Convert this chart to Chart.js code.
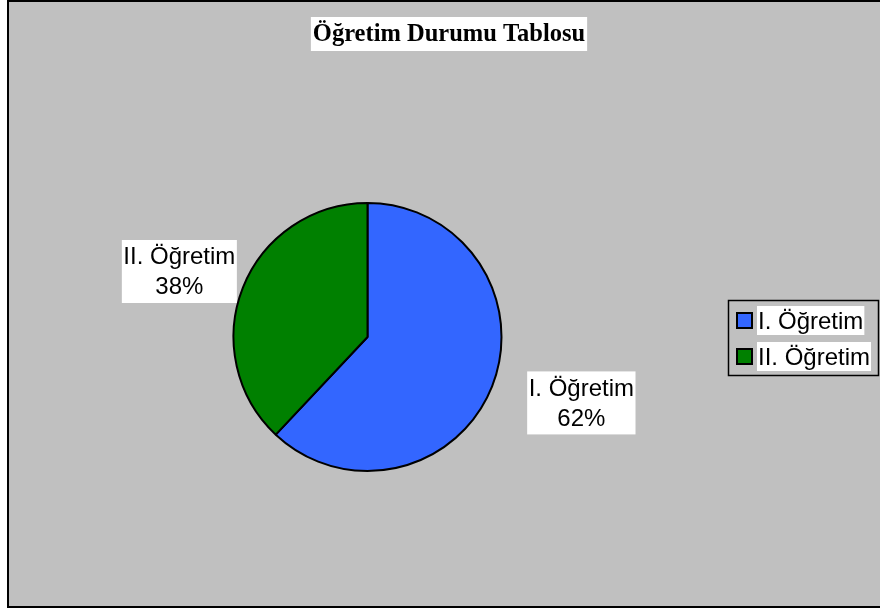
<!DOCTYPE html>
<html>
<head>
<meta charset="utf-8">
<script src="https://cdn.jsdelivr.net/npm/chart.js@4/dist/chart.umd.min.js"></script>
<style>
html,body{margin:0;padding:0;background:#fff;}
#wrap{position:absolute;left:0;top:0;width:880px;height:612px;}
</style>
</head>
<body>
<div id="wrap"><canvas id="c" width="880" height="612"></canvas></div>
<script>
const titleText = "Öğretim Durumu Tablosu";
const categories = ["I. Öğretim", "II. Öğretim"];
const percentValues = [62, 38];
const sliceColors = ["#3366FF", "#008000"];

const decorPlugin = {
  id: 'decor',
  beforeDraw(chart) {
    const ctx = chart.ctx;
    ctx.save();
    ctx.fillStyle = '#ffffff';
    ctx.fillRect(0, 0, chart.width, chart.height);
    ctx.fillStyle = '#C0C0C0';
    ctx.fillRect(8, 1, 880, 606);
    ctx.strokeStyle = '#000';
    ctx.lineWidth = 2;
    ctx.strokeRect(8, 1, 880, 606);
    // title
    ctx.font = 'bold 24.5px "Liberation Serif", "Times New Roman", serif';
    ctx.textBaseline = 'middle';
    ctx.textAlign = 'center';
    const tw = ctx.measureText(titleText).width;
    const tx = 449, ty = 34;
    ctx.fillStyle = '#fff';
    ctx.fillRect(tx - tw / 2 - 2, 17, tw + 4, 34);
    ctx.fillStyle = '#000';
    ctx.fillText(titleText, tx, ty + 1);
    ctx.restore();
  },
  afterDraw(chart) {
    const ctx = chart.ctx;
    const meta = chart.getDatasetMeta(0);
    const data = chart.data.datasets[0].data;
    const total = data.reduce((a, b) => a + b, 0);
    const radial = [1.62, 1.47];
    const nudge = [[12, -14], [-5, 7]];
    ctx.save();
    ctx.font = '24px "Liberation Sans", Arial, sans-serif';
    ctx.textAlign = 'center';
    ctx.textBaseline = 'middle';
    meta.data.forEach((arc, i) => {
      const p = arc.getProps(['x', 'y', 'startAngle', 'endAngle', 'outerRadius'], true);
      const mid = (p.startAngle + p.endAngle) / 2;
      const cx = p.x + Math.cos(mid) * p.outerRadius * radial[i] + nudge[i][0];
      const cy = p.y + Math.sin(mid) * p.outerRadius * radial[i] + nudge[i][1];
      const l1 = chart.data.labels[i];
      const l2 = Math.round(data[i] / total * 100) + '%';
      const w = Math.max(ctx.measureText(l1).width, ctx.measureText(l2).width) + 3;
      const h = 63;
      ctx.fillStyle = '#fff';
      ctx.fillRect(cx - w / 2, cy - h / 2, w, h);
      ctx.fillStyle = '#000';
      ctx.fillText(l1, cx, cy - 14);
      ctx.fillText(l2, cx, cy + 16);
    });
    // legend
    const lx = 728, ly = 300, lw = 150, lh = 75;
    ctx.strokeStyle = '#000';
    ctx.lineWidth = 1.5;
    ctx.strokeRect(lx + 0.5, ly + 0.5, lw, lh);
    ctx.textAlign = 'left';
    chart.data.labels.forEach((lab, i) => {
      const yc = 321 + i * 36;
      ctx.fillStyle = sliceColors[i];
      ctx.fillRect(737, yc - 8, 15, 15);
      ctx.strokeStyle = '#000';
      ctx.lineWidth = 2;
      ctx.strokeRect(737, yc - 8, 15, 15);
      const w = ctx.measureText(lab).width;
      ctx.fillStyle = '#fff';
      ctx.fillRect(757, yc - 15, w + 2, 29);
      ctx.fillStyle = '#000';
      ctx.fillText(lab, 758, yc + 1);
    });
    ctx.restore();
  }
};

new Chart(document.getElementById('c'), {
  type: 'pie',
  data: {
    labels: categories,
    datasets: [{
      data: percentValues,
      backgroundColor: sliceColors,
      borderColor: '#000',
      borderWidth: 2
    }]
  },
  options: {
    responsive: false,
    animation: false,
    layout: { padding: { left: 232, right: 377, top: 202, bottom: 140 } },
    plugins: {
      legend: { display: false },
      title: { display: false },
      tooltip: { enabled: false }
    }
  },
  plugins: [decorPlugin]
});
</script>
</body>
</html>
